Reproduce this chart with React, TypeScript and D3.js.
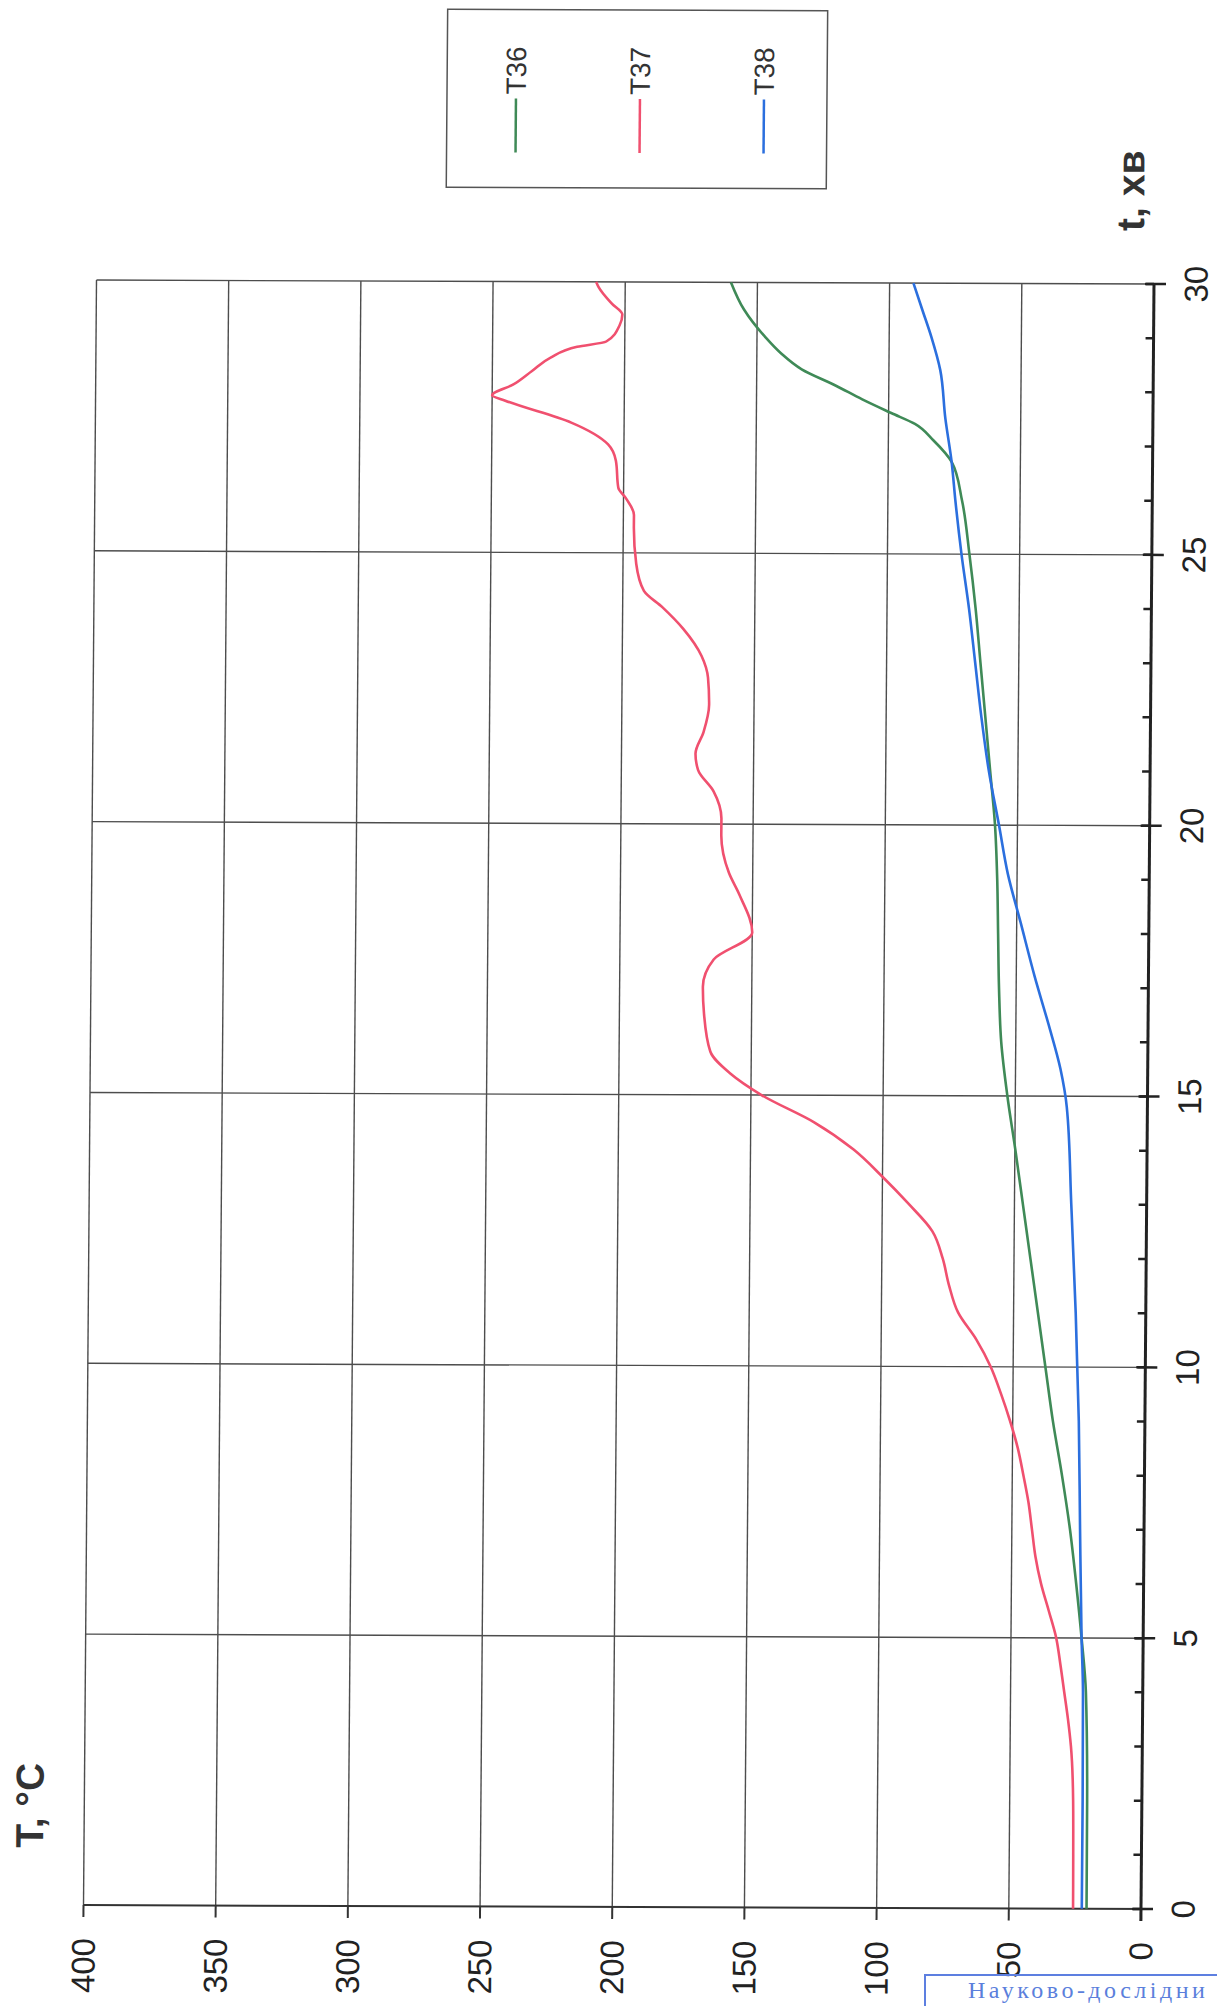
import React, { useEffect, useRef } from "react";
import * as d3 from "d3";

// time, min
const timeT36 = [0, 2, 4, 5, 6, 7, 8, 9, 10, 11, 12, 13, 14, 15, 16, 17, 18, 19, 20, 21, 22, 23, 24, 25, 26, 26.7, 27.1, 27.4, 27.6, 27.85, 28.1, 28.4, 28.7, 29, 29.5, 30];
// temperature, °C
const valT36 = [20.6, 20.7, 21.5, 23.3, 25.5, 28, 31.2, 34.8, 37.8, 40.8, 43.8, 46.8, 49.8, 53, 55.5, 56.5, 57, 57.5, 58.5, 60.5, 62.5, 64.5, 66.5, 69, 72, 76, 83, 90, 99, 110, 120, 133, 141, 147, 155, 160];

const timeT37 = [0, 1, 2, 3, 3.5, 4, 4.5, 5, 5.5, 6, 6.5, 7, 7.5, 8, 8.5, 9, 9.5, 10, 10.5, 11, 11.5, 12, 12.5, 13, 13.5, 14, 14.5, 15, 15.4, 15.8, 16.5, 17, 17.5, 18, 18.7, 19.1, 19.8, 20.1, 20.6, 21, 21.3, 21.7, 22.2, 22.7, 23.1, 23.6, 24, 24.3, 24.8, 25.5, 25.7, 26, 26.2, 26.7, 27, 27.4, 27.8, 27.9, 28.1, 28.35, 28.6, 28.8, 28.9, 29.2, 29.4, 29.6, 29.9, 30];
const valT37 = [25.7, 25.8, 26, 27, 28.2, 29.7, 31.2, 32.9, 35.8, 38.8, 41, 42.4, 43.8, 45.8, 48, 51, 54.5, 58.5, 64, 71, 74.5, 77, 81, 90, 100, 111, 126, 146, 158, 165.5, 168, 168.5, 164.5, 150, 155, 159, 162, 162, 165, 171, 172, 169, 167, 167.5, 170, 177, 185, 192, 195, 196, 196, 199, 202, 203, 206, 220, 245, 250, 242, 235, 228, 218, 207, 202, 201, 205, 210, 211];

const timeT38 = [0, 2, 4, 5, 7, 9, 11, 13, 14.8, 15.5, 16.3, 17.2, 18.2, 19.1, 20, 21, 22, 23, 24, 25, 26, 26.7, 27.5, 28.4, 29, 29.5, 30];
const valT38 = [22.4, 22.4, 22.6, 23.3, 24.2, 25, 26.5, 28.5, 30.5, 33, 37.5, 43, 48.5, 53.5, 57, 61, 64, 66.5, 69, 72, 74.5, 76, 78.5, 80.6, 84, 87.5, 91];

const seriesNames = ["T36", "T37", "T38"];
const seriesColors = ["#3f8a57", "#f0506f", "#2b6fde"];

const tempTicks = [0, 50, 100, 150, 200, 250, 300, 350, 400];
const timeTicks = [0, 5, 10, 15, 20, 25, 30];
const timeMinorTicks = d3.range(0, 31, 1);

const App = () => {
    const chartRef = useRef<SVGSVGElement>(null);

    useEffect(() => {
        const svg = d3.select(chartRef.current);
        svg.selectAll("*").remove();

        // plot frame (the whole chart is turned on its side)
        const left = 90, right = 1147.5, top = 282, bottom = 1907;
        const cx = (left + right) / 2, cy = (top + bottom) / 2;

        const x = d3.scaleLinear().domain([0, 400]).range([right, left]);
        const y = d3.scaleLinear().domain([0, 30]).range([bottom, top]);

        // the scan is a little skewed
        const g = svg
            .append("g")
            .attr("transform", `matrix(1,0.0038,-0.008,1,${0.008 * cy},${-0.0038 * cx})`);

        // vertical grid (temperature)
        g.selectAll(".vgrid")
            .data(tempTicks.filter((d) => d > 0))
            .enter()
            .append("line")
            .attr("x1", (d) => x(d))
            .attr("x2", (d) => x(d))
            .attr("y1", top)
            .attr("y2", bottom)
            .attr("stroke", "#4d4d4d")
            .attr("stroke-width", 1.4);

        // horizontal grid (time)
        g.selectAll(".hgrid")
            .data(timeTicks.filter((d) => d > 0))
            .enter()
            .append("line")
            .attr("x1", left)
            .attr("x2", right)
            .attr("y1", (d) => y(d))
            .attr("y2", (d) => y(d))
            .attr("stroke", "#4d4d4d")
            .attr("stroke-width", 1.4);

        // bottom axis line + ticks
        g.append("line")
            .attr("x1", left)
            .attr("x2", right + 12)
            .attr("y1", bottom)
            .attr("y2", bottom)
            .attr("stroke", "#333")
            .attr("stroke-width", 2);
        g.selectAll(".ttick")
            .data(tempTicks)
            .enter()
            .append("line")
            .attr("x1", (d) => x(d))
            .attr("x2", (d) => x(d))
            .attr("y1", bottom)
            .attr("y2", bottom + 12)
            .attr("stroke", "#333")
            .attr("stroke-width", 2);

        // right axis (time)
        g.append("line")
            .attr("x1", right)
            .attr("x2", right)
            .attr("y1", top)
            .attr("y2", bottom + 12)
            .attr("stroke", "#222")
            .attr("stroke-width", 3);
        g.selectAll(".minor")
            .data(timeMinorTicks)
            .enter()
            .append("line")
            .attr("x1", right - 8)
            .attr("x2", right)
            .attr("y1", (d) => y(d))
            .attr("y2", (d) => y(d))
            .attr("stroke", "#222")
            .attr("stroke-width", 2.5);
        g.selectAll(".major")
            .data(timeTicks)
            .enter()
            .append("line")
            .attr("x1", right - 9)
            .attr("x2", right + 12)
            .attr("y1", (d) => y(d))
            .attr("y2", (d) => y(d))
            .attr("stroke", "#222")
            .attr("stroke-width", 2.5);

        // tick labels
        const font = "'Liberation Sans', Arial, sans-serif";
        g.selectAll(".tlabel")
            .data(tempTicks)
            .enter()
            .append("text")
            .attr("transform", (d) => `translate(${x(d)},1940) rotate(-90)`)
            .attr("text-anchor", "end")
            .attr("dy", "0.35em")
            .style("font-family", font)
            .style("font-size", "33px")
            .style("fill", "#222")
            .text((d) => d);

        g.selectAll(".xlabel")
            .data(timeTicks)
            .enter()
            .append("text")
            .attr("transform", (d) => `translate(${right + 42},${y(d)}) rotate(-90)`)
            .attr("text-anchor", "middle")
            .attr("dy", "0.35em")
            .style("font-family", font)
            .style("font-size", "33px")
            .style("fill", "#222")
            .text((d) => d);

        // axis titles
        g.append("text")
            .attr("transform", "translate(49,1850) rotate(-90)")
            .style("font-family", font)
            .style("font-size", "39px")
            .style("font-weight", "bold")
            .style("fill", "#333")
            .text("T, °C");

        g.append("text")
            .attr("transform", "translate(1137,229) rotate(-90)")
            .style("font-family", font)
            .style("font-size", "39px")
            .style("font-weight", "bold")
            .style("fill", "#333")
            .text("t, хв");

        // series
        const series = [
            { name: seriesNames[0], t: timeT36, v: valT36, color: seriesColors[0] },
            { name: seriesNames[1], t: timeT37, v: valT37, color: seriesColors[1] },
            { name: seriesNames[2], t: timeT38, v: valT38, color: seriesColors[2] },
        ];

        const line = d3
            .line<[number, number]>()
            .x((d) => x(d[1]))
            .y((d) => y(d[0]))
            .curve(d3.curveMonotoneY);

        series.forEach((s) => {
            const pts = s.t.map((t, i) => [t, s.v[i]] as [number, number]);
            g.append("path")
                .attr("d", line(pts))
                .attr("fill", "none")
                .attr("stroke", s.color)
                .attr("stroke-width", 2.6)
                .attr("stroke-linejoin", "round");
        });

        // legend
        const legend = g.append("g");
        legend
            .append("rect")
            .attr("x", 439)
            .attr("y", 10)
            .attr("width", 380)
            .attr("height", 178)
            .attr("fill", "none")
            .attr("stroke", "#555")
            .attr("stroke-width", 1.5);
        const legendX = d3.scalePoint().domain(seriesNames).range([508, 756]);
        series.forEach((s) => {
            const lx = legendX(s.name) as number;
            legend
                .append("line")
                .attr("x1", lx)
                .attr("x2", lx)
                .attr("y1", 99)
                .attr("y2", 153)
                .attr("stroke", s.color)
                .attr("stroke-width", 2.5);
            legend
                .append("text")
                .attr("transform", `translate(${lx},95) rotate(-90)`)
                .attr("dy", "0.35em")
                .style("font-family", font)
                .style("font-size", "28px")
                .style("fill", "#333")
                .text(s.name);
        });

        // stamp at the bottom edge
        svg.append("rect")
            .attr("x", 925)
            .attr("y", 1975)
            .attr("width", 320)
            .attr("height", 40)
            .attr("fill", "none")
            .attr("stroke", "#5d7fe0")
            .attr("stroke-width", 2);
        svg.append("text")
            .attr("x", 968)
            .attr("y", 1998)
            .style("font-family", "'Liberation Serif', serif")
            .style("font-size", "24px")
            .style("letter-spacing", "3.5px")
            .style("fill", "#5b7fdc")
            .text("Науково-дослідни");
    }, []);

    return (
        <svg
            ref={chartRef}
            width={1217}
            height={2006}
            style={{ position: "absolute", left: 0, top: 0, background: "#fff" }}
        />
    );
};

export default App;
